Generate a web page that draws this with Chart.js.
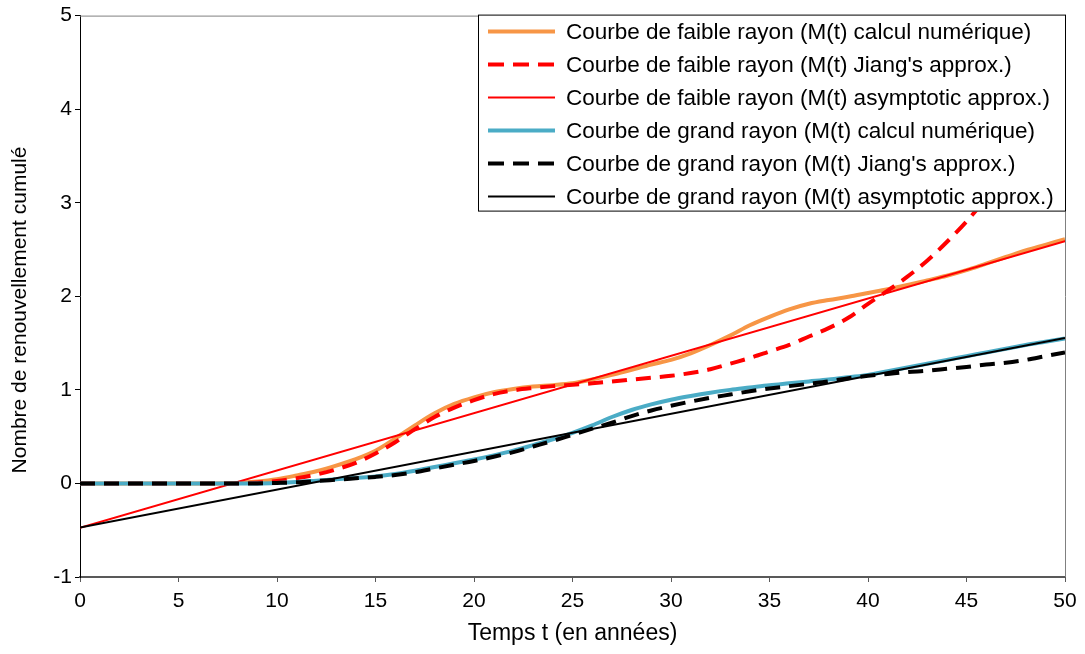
<!DOCTYPE html>
<html>
<head>
<meta charset="utf-8">
<script src="https://cdn.jsdelivr.net/npm/chart.js@4/dist/chart.umd.min.js"></script>
<style>
  html, body { margin: 0; padding: 0; background: #fff; }
  #wrap { width: 1085px; height: 654px; }
</style>
</head>
<body>
<div id="wrap"><canvas id="renewal-chart" width="1085" height="654"></canvas></div>
<script>
// temps t (années)
const tYears = [0, 5, 7, 8, 9, 10, 11, 12, 13, 14, 15, 16, 17, 18, 19, 20, 21, 22, 23, 24, 25,
  26, 27, 28, 29, 30, 31, 32, 33, 34, 35, 36, 37, 38, 39, 40, 41, 42, 43, 44, 45, 46, 47, 48, 49, 50];

const faibleNum = [0, 0, 0, 0.005, 0.02, 0.045, 0.085, 0.13, 0.19, 0.26, 0.35, 0.48, 0.62, 0.75, 0.85, 0.92, 0.975, 1.01, 1.035, 1.05, 1.07,
  1.11, 1.16, 1.215, 1.27, 1.32, 1.39, 1.48, 1.58, 1.69, 1.78, 1.86, 1.92, 1.96, 1.995, 2.035, 2.075, 2.12, 2.17, 2.22, 2.28, 2.35, 2.42, 2.49, 2.55, 2.61];

const faibleJiang = [0, 0, 0, 0, 0.01, 0.025, 0.055, 0.095, 0.15, 0.22, 0.32, 0.44, 0.58, 0.71, 0.81, 0.89, 0.955, 0.995, 1.02, 1.04, 1.055,
  1.07, 1.09, 1.11, 1.13, 1.15, 1.18, 1.22, 1.28, 1.34, 1.41, 1.48, 1.57, 1.66, 1.77, 1.92, 2.06, 2.21, 2.38, 2.58, 2.8, 3.05, 3.33, 3.65, 4.0, 4.41];

const grandNum = [0, 0, 0, 0, 0, 0.005, 0.015, 0.03, 0.045, 0.06, 0.075, 0.1, 0.135, 0.175, 0.215, 0.255, 0.3, 0.35, 0.41, 0.47, 0.54,
  0.62, 0.71, 0.785, 0.845, 0.895, 0.935, 0.97, 1.0, 1.025, 1.05, 1.07, 1.09, 1.11, 1.135, 1.16, 1.2, 1.24, 1.28, 1.32, 1.36, 1.4, 1.44, 1.48, 1.515, 1.55];

const grandJiang = [0, 0, 0, 0, 0, 0.005, 0.012, 0.025, 0.04, 0.055, 0.07, 0.09, 0.12, 0.16, 0.2, 0.24, 0.285, 0.335, 0.395, 0.455, 0.52,
  0.585, 0.65, 0.72, 0.78, 0.83, 0.875, 0.915, 0.95, 0.985, 1.015, 1.04, 1.065, 1.09, 1.125, 1.15, 1.17, 1.19, 1.205, 1.225, 1.245, 1.27, 1.29, 1.32, 1.36, 1.4];

// droites asymptotiques
const tAsym = [0, 50];
const faibleAsym = [-0.475, 2.59];
const grandAsym = [-0.47, 1.555];

const xTicks = [0, 5, 10, 15, 20, 25, 30, 35, 40, 45, 50];
const yTicks = [-1, 0, 1, 2, 3, 4, 5];

const yTitle = 'Nombre de renouvellement cumulé';

const FONT = 'Liberation Sans, Arial, sans-serif';

function pts(xs, ys) {
  return xs.map(function(x, i) { return { x: x, y: ys[i] }; });
}

// plot border under the lines, legend box over them, y title off-centre like Excel
const frameAndLegend = {
  id: 'frameAndLegend',
  beforeDatasetsDraw(chart) {
    let a = chart.chartArea, ctx = chart.ctx;
    ctx.save();
    ctx.strokeStyle = '#808080';
    ctx.lineWidth = 1;
    ctx.beginPath();
    ctx.moveTo(a.left, a.top + 0.5);
    ctx.lineTo(a.right + 0.5, a.top + 0.5);
    ctx.lineTo(a.right + 0.5, a.bottom);
    ctx.stroke();
    ctx.restore();
  },
  afterDatasetsDraw(chart) {
    let a = chart.chartArea, ctx = chart.ctx;
    let x0 = 478, y0 = a.top - 1, w = a.right - x0 + 1, h = 197;
    ctx.save();
    ctx.fillStyle = '#fff';
    ctx.fillRect(x0, y0, w, h);
    ctx.strokeStyle = '#000';
    ctx.lineWidth = 1;
    ctx.strokeRect(x0 + 0.5, y0 + 0.5, w - 1, h - 1);
    ctx.font = '22.5px ' + FONT;
    ctx.textBaseline = 'middle';
    chart.data.datasets.forEach(function(ds, i) {
      let y = y0 + 17 + i * 33;
      ctx.beginPath();
      ctx.setLineDash(ds.legendDash || []);
      ctx.strokeStyle = ds.borderColor;
      ctx.lineWidth = ds.borderWidth;
      ctx.moveTo(x0 + 10, y);
      ctx.lineTo(x0 + 77, y);
      ctx.stroke();
      ctx.setLineDash([]);
      ctx.fillStyle = '#000';
      ctx.fillText(ds.label, x0 + 88, y + 1);
    });

    ctx.translate(20, 310);
    ctx.rotate(-Math.PI / 2);
    ctx.font = '21px ' + FONT;
    ctx.textAlign = 'center';
    ctx.fillText(yTitle, 0, 0);
    ctx.restore();
  }
};

function lineSet(label, xs, ys, color, width, dash, order) {
  return {
    label: label,
    data: pts(xs, ys),
    borderColor: color,
    backgroundColor: color,
    borderWidth: width,
    borderDash: dash || [],
    legendDash: dash ? [16, 9] : null,
    pointRadius: 0,
    fill: false,
    cubicInterpolationMode: 'monotone',
    order: order
  };
}

new Chart(document.getElementById('renewal-chart'), {
  type: 'line',
  data: {
    datasets: [
      lineSet('Courbe de faible rayon (M(t) calcul numérique)', tYears, faibleNum, '#F79646', 4, null, 6),
      lineSet("Courbe de faible rayon (M(t) Jiang's approx.)", tYears, faibleJiang, '#FF0000', 4, [15, 9], 5),
      lineSet('Courbe de faible rayon (M(t) asymptotic approx.)', tAsym, faibleAsym, '#FF0000', 2, null, 4),
      lineSet('Courbe de grand rayon (M(t) calcul numérique)', tYears, grandNum, '#4BACC6', 4, null, 3),
      lineSet("Courbe de grand rayon (M(t) Jiang's approx.)", tYears, grandJiang, '#000000', 4, [15, 9], 2),
      lineSet('Courbe de grand rayon (M(t) asymptotic approx.)', tAsym, grandAsym, '#000000', 2, null, 1)
    ]
  },
  options: {
    responsive: false,
    animation: false,
    devicePixelRatio: 1,
    layout: { padding: { left: 0, right: 20, top: 15, bottom: 0 } },
    plugins: { legend: { display: false }, tooltip: { enabled: false } },
    scales: {
      x: {
        type: 'linear',
        min: xTicks[0],
        max: xTicks[xTicks.length - 1],
        afterBuildTicks: function(s) { s.ticks = xTicks.map(function(v) { return { value: v }; }); },
        ticks: { color: '#000', font: { family: FONT, size: 21 }, padding: 7, maxRotation: 0, autoSkip: false },
        grid: { drawOnChartArea: false, tickLength: 5, tickColor: '#595959', tickWidth: 1 },
        border: { color: '#595959', width: 2 },
        title: { display: true, text: 'Temps t (en années)', color: '#000', font: { family: FONT, size: 23 }, padding: { top: 0, bottom: 7 } },
        afterFit: function(s) { s.height = 77; }
      },
      y: {
        type: 'linear',
        min: yTicks[0],
        max: yTicks[yTicks.length - 1],
        afterBuildTicks: function(s) { s.ticks = yTicks.map(function(v) { return { value: v }; }); },
        ticks: { color: '#000', font: { family: FONT, size: 21 }, padding: 3, autoSkip: false },
        grid: { drawOnChartArea: false, tickLength: 5, tickColor: '#000', tickWidth: 1 },
        border: { color: '#000', width: 1 },
        title: { display: false },
        afterFit: function(s) { s.width = 80; }
      }
    }
  },
  plugins: [frameAndLegend]
});
</script>
</body>
</html>
